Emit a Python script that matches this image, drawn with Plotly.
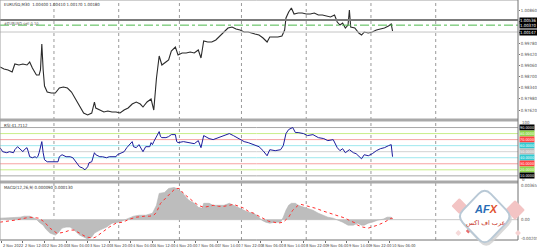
import plotly.graph_objects as go

# ---------------- data ----------------
price_bar = [0, 3, 6, 9, 11, 14, 17, 20, 22, 24, 27, 29, 30, 31, 32, 33, 35, 38, 41, 44,
             47, 50, 53, 56, 59, 62, 65, 68, 70, 71, 74, 77, 80, 83, 86, 89, 92, 95, 98, 101,
             104, 106, 109, 112, 114, 116, 118, 120, 123, 125, 127, 130, 132, 135, 138, 141, 144, 147, 149, 151,
             154, 157, 160, 163, 166, 169, 172, 175, 178, 181, 184, 186, 189, 192, 195, 198, 200, 203, 206, 209,
             211, 212, 214, 216, 218, 221, 224, 227, 230, 233, 236, 239, 242, 245, 248, 250, 252, 254, 256, 258,
             259, 260, 263, 266, 268, 270, 273, 276, 279, 282, 285, 288, 290, 291]
price_close = [0.99013, 0.98948, 0.98916, 0.98851, 0.99110, 0.99078, 0.99110, 0.99078, 0.99175, 0.98981,
               0.98754, 0.98754, 0.98916, 0.99758, 0.98916, 0.98398, 0.98203, 0.98171, 0.98171, 0.98333,
               0.98365, 0.98333, 0.98203, 0.97976, 0.97717, 0.97523, 0.97458, 0.97523, 0.97879, 0.97685,
               0.97620, 0.97555, 0.97588, 0.97555, 0.97555, 0.97523, 0.97620, 0.97685, 0.97814, 0.97879,
               0.97814, 0.97717, 0.97879, 0.97976, 0.97620, 0.98657, 0.99370, 0.99078, 0.99175, 0.99240,
               0.99532, 0.99661, 0.99402, 0.99467, 0.99467, 0.99499, 0.99467, 0.99564, 0.99305, 0.99856,
               0.99823, 0.99823, 0.99888, 1.00018, 1.00115, 1.00277, 1.00309, 1.00244, 1.00212, 1.00147,
               1.00147, 1.00115, 1.00082, 1.00050, 0.99953, 0.99823, 0.99985, 0.99985, 0.99985, 1.00018,
               1.00212, 1.00601, 1.00795, 1.00925, 1.00730, 1.00763, 1.00763, 1.00730, 1.00730, 1.00763,
               1.00698, 1.00698, 1.00666, 1.00633, 1.00698, 1.00471, 1.00374, 1.00439, 1.00277, 1.00374,
               1.00860, 1.00309, 1.00277, 1.00115, 1.00050, 1.00147, 1.00115, 1.00147, 1.00212, 1.00244,
               1.00277, 1.00342, 1.00406, 1.00180]

rsi_bar = [0, 2, 5, 7, 10, 11, 13, 15, 17, 18, 20, 21, 22, 24, 26, 27, 28, 29, 31, 32,
           33, 35, 39, 43, 44, 46, 49, 52, 54, 57, 59, 61, 63, 65, 66, 68, 70, 71, 74, 76,
           79, 81, 83, 86, 87, 90, 92, 94, 97, 98, 99, 101, 103, 105, 106, 108, 111, 112, 113, 114,
           116, 117, 118, 119, 120, 123, 125, 127, 130, 131, 132, 136, 140, 144, 147, 149, 151, 155, 158, 162,
           166, 170, 173, 177, 181, 184, 188, 192, 195, 198, 200, 204, 208, 210, 212, 214, 217, 219, 221, 225,
           228, 232, 236, 240, 243, 247, 250, 252, 254, 256, 259, 262, 264, 266, 268, 270, 273, 276, 279, 282,
           285, 288, 290, 291]
rsi_val = [56.7, 50.0, 48.3, 50.0, 48.3, 53.3, 58.3, 53.3, 50.0, 53.3, 56.7, 50.0, 41.7, 40.0, 41.7, 40.0,
           41.7, 48.3, 66.7, 48.3, 36.7, 33.3, 33.3, 33.3, 41.7, 45.0, 41.7, 41.7, 40.0, 31.7, 25.0, 23.3,
           20.0, 25.0, 31.7, 33.3, 48.3, 45.0, 41.7, 41.7, 40.0, 41.7, 41.7, 41.7, 45.0, 48.3, 50.0, 56.7,
           65.0, 66.7, 58.3, 56.7, 61.7, 53.3, 50.0, 58.3, 58.3, 65.0, 61.7, 66.7, 75.0, 81.7, 83.3, 75.0,
           73.3, 73.3, 75.0, 78.3, 78.3, 66.7, 65.0, 66.7, 65.0, 63.3, 68.3, 56.7, 76.7, 71.7, 70.0, 73.3,
           76.7, 80.0, 76.7, 71.7, 66.7, 65.0, 61.7, 58.3, 51.7, 43.3, 53.3, 51.7, 53.3, 60.0, 80.0, 86.7,
           90.0, 81.7, 81.7, 80.0, 76.7, 78.3, 73.3, 71.7, 68.3, 70.0, 56.7, 51.7, 55.0, 48.3, 53.3, 48.3,
           46.7, 41.7, 38.3, 45.0, 43.3, 46.7, 51.7, 55.0, 56.7, 60.0, 61.7, 41.7112]

macd_bar = [0, 7, 15, 18, 22, 24, 27, 29, 32, 34, 37, 41, 43, 46, 49, 52, 55, 59, 63, 65,
            68, 70, 74, 79, 83, 88, 92, 96, 99, 103, 108, 113, 116, 118, 122, 125, 129, 131, 135, 138,
            140, 144, 147, 150, 151, 155, 158, 162, 166, 170, 173, 177, 181, 184, 188, 192, 194, 197, 200, 204,
            208, 210, 212, 214, 216, 219, 221, 225, 228, 232, 236, 240, 243, 247, 251, 254, 258, 262, 265, 268,
            270, 273, 276, 280, 284, 287, 290, 291]
macd_hist = [0.00015, 0.00020, 0.00025, 0.00035, 0.00035, 0.00025, 0.00005, -0.00025, -0.00055, -0.00095,
             -0.00135, -0.00155, -0.00135, -0.00085, -0.00075, -0.00075, -0.00105, -0.00155, -0.00185, -0.00195,
             -0.00175, -0.00135, -0.00105, -0.00075, -0.00035, -0.00025, -0.00005, 0.00015, 0.00035, 0.00045,
             0.00045, 0.00065, 0.00145, 0.00265, 0.00275, 0.00315, 0.00325, 0.00315, 0.00275, 0.00225,
             0.00195, 0.00165, 0.00125, 0.00115, 0.00165, 0.00165, 0.00145, 0.00145, 0.00145, 0.00165,
             0.00145, 0.00125, 0.00095, 0.00075, 0.00065, 0.00025, -0.00005, -0.00025, -0.00035, -0.00025,
             -0.00025, 0.00025, 0.00095, 0.00145, 0.00165, 0.00165, 0.00145, 0.00125, 0.00115, 0.00095,
             0.00065, 0.00045, 0.00025, 0.00015, -0.00005, -0.00025, -0.00055, -0.00055, -0.00035, -0.00055,
             -0.00055, -0.00035, -0.00025, -0.00005, 0.00005, 0.00025, 0.00025, 0.00009]

signal_bar = [0, 11, 22, 29, 33, 37, 42, 44, 48, 52, 55, 59, 64, 69, 71, 76, 81, 86, 91, 96,
              101, 107, 111, 114, 116, 119, 123, 127, 130, 133, 136, 140, 144, 147, 151, 155, 158, 162, 166, 170,
              173, 177, 181, 184, 188, 192, 195, 199, 203, 206, 210, 214, 217, 221, 223, 226, 230, 234, 240, 245,
              251, 256, 260, 264, 265, 269, 273, 276, 280, 285, 290, 291]
macd_signal = [-0.00025, -0.00005, 0.00025, 0.00015, -0.00025, -0.00085, -0.00135, -0.00135, -0.00125, -0.00105,
               -0.00105, -0.00135, -0.00175, -0.00185, -0.00175, -0.00125, -0.00075, -0.00035, -0.00025, 0.00005,
               0.00025, 0.00035, 0.00035, 0.00045, 0.00075, 0.00165, 0.00225, 0.00275, 0.00315, 0.00315,
               0.00265, 0.00215, 0.00175, 0.00145, 0.00125, 0.00135, 0.00145, 0.00135, 0.00135, 0.00145,
               0.00155, 0.00135, 0.00115, 0.00085, 0.00065, 0.00035, 0.00015, -0.00015, -0.00025, -0.00035,
               -0.00025, 0.00025, 0.00095, 0.00145, 0.00155, 0.00145, 0.00135, 0.00115, 0.00085, 0.00065,
               0.00035, 0.00015, -0.00015, -0.00035, -0.00055, -0.00075, -0.00085, -0.00075, -0.00055, -0.00025,
               0.00015, 0.00013]

price_ticks = [1.00860, 1.00500, 1.00140, 0.99780, 0.99420, 0.99060, 0.98700, 0.98340, 0.97980, 0.97620]
time_labels = ["2 Nov 2022", "2 Nov 12:00", "2 Nov 20:00", "3 Nov 04:00", "3 Nov 12:00", "3 Nov 20:00",
               "4 Nov 04:00", "4 Nov 12:00", "4 Nov 20:00", "7 Nov 06:00", "7 Nov 14:00", "7 Nov 22:00",
               "8 Nov 06:00", "8 Nov 14:00", "8 Nov 22:00", "9 Nov 06:00", "9 Nov 14:00", "9 Nov 22:00",
               "10 Nov 06:00"]
separator_bars = [40, 88, 133, 179, 227, 275, 323]
rsi_levels = [90, 80, 70, 60, 50, 40, 30, 20, 10]
order_price = 1.00536
tp_price = 1.00370
bid_price = 1.00147
last_ohlc = [1.00400, 1.00410, 1.00170, 1.00180]
price_range = [0.97345, 1.01184]
macd_range = [-0.00205, 0.00365]
macd_labels = ["0.00365", "0.00", "-0.00205"]

# ---------------- layout helpers ----------------
W, H = 521.0, 240.0
def px(x):
    return x / W
def py(y):
    return 1 - y / H

FONT = "Liberation Sans Narrow, DejaVu Sans Condensed, Arial Narrow, sans-serif"
FS = 4.3
FT = 3.9
fig = go.Figure()

fig.add_trace(go.Scatter(x=price_bar, y=price_close, mode="lines",
                         line=dict(color="#2b2b2b", width=1.1), yaxis="y", hoverinfo="skip"))
fig.add_trace(go.Scatter(x=rsi_bar, y=rsi_val, mode="lines",
                         line=dict(color="#1c1c9c", width=1.0), yaxis="y2", hoverinfo="skip"))
fig.add_trace(go.Scatter(x=macd_bar, y=macd_hist, mode="lines", fill="tozeroy",
                         fillcolor="#bdbdbd", line=dict(color="#b5b5b5", width=0.6),
                         yaxis="y3", hoverinfo="skip"))
fig.add_trace(go.Scatter(x=signal_bar, y=macd_signal, mode="lines",
                         line=dict(color="#ff3030", width=1, dash="dot"), yaxis="y3", hoverinfo="skip"))

shapes = []
annotations = []

for b in separator_bars:
    shapes.append(dict(type="line", xref="x", yref="paper", x0=b, x1=b, y0=0, y1=1,
                       line=dict(color="#9a9a9a", width=1, dash="dot"), layer="below"))

shapes.append(dict(type="line", xref="paper", yref="y", x0=0, x1=1, y0=order_price, y1=order_price,
                   line=dict(color="#7c7c7c", width=2)))
shapes.append(dict(type="line", xref="paper", yref="y", x0=0, x1=1, y0=tp_price, y1=tp_price,
                   line=dict(color="#4cb84c", width=1, dash="dashdot")))
shapes.append(dict(type="line", xref="paper", yref="y", x0=0, x1=1, y0=bid_price, y1=bid_price,
                   line=dict(color="#c4c4c4", width=1)))
for val in [order_price, tp_price, bid_price]:
    annotations.append(dict(xref="paper", yref="y", x=1, y=val, xanchor="left", yanchor="middle",
                            text="%.5f" % val, showarrow=False, bgcolor="#000000",
                            font=dict(size=FS, color="#ffffff", family=FONT), borderpad=0, xshift=1))

level_line = {90: "#a8a8a8", 80: "#c8ee8a", 70: "#f7a3a3", 60: "#9ee8ee", 50: "#d2d2d2",
              40: "#9ee8ee", 30: "#f7a3a3", 20: "#c8ee8a", 10: "#a8a8a8"}
level_box = {90: "#000000", 80: "#8fd64a", 70: "#ff4040", 60: "#30c8d0", 50: "#bcbcbc",
             40: "#30c8d0", 30: "#ff4040", 20: "#8fd64a", 10: "#000000"}
for lv in rsi_levels:
    shapes.append(dict(type="line", xref="paper", yref="y2", x0=0, x1=1, y0=lv, y1=lv,
                       line=dict(color=level_line[lv], width=1), layer="below"))
    annotations.append(dict(xref="paper", yref="y2", x=1, y=lv, xanchor="left", yanchor="middle",
                            text="%.4f" % lv, showarrow=False, bgcolor=level_box[lv],
                            font=dict(size=3.8, color="#ffffff", family=FONT), borderpad=0, xshift=1))
annotations.append(dict(xref="paper", yref="paper", x=1, y=py(122.5), xanchor="left", yanchor="middle",
                        text="100", showarrow=False, font=dict(size=FS, color="#555", family=FONT), xshift=2))
annotations.append(dict(xref="paper", yref="paper", x=1, y=py(179.5), xanchor="left", yanchor="middle",
                        text="0", showarrow=False, font=dict(size=FS, color="#555", family=FONT), xshift=2))

for val, txt in zip([macd_range[1] - 0.00025, 0.0, macd_range[0] + 0.00012], macd_labels):
    annotations.append(dict(xref="paper", yref="y3", x=1, y=val, xanchor="left", yanchor="middle",
                            text=txt, showarrow=False, font=dict(size=FS, color="#555", family=FONT), xshift=1))
shapes.append(dict(type="line", xref="paper", yref="y3", x0=0, x1=1, y0=0, y1=0,
                   line=dict(color="#c8c8c8", width=1), layer="below"))

for y0, y1 in [(118.5, 121.5), (180.5, 183.5)]:
    shapes.append(dict(type="rect", xref="paper", yref="paper", x0=0, x1=1, y0=py(y1), y1=py(y0),
                       fillcolor="#a9a9a9", line=dict(width=0)))
shapes.append(dict(type="line", xref="paper", yref="paper", x0=0, x1=1, y0=1, y1=1,
                   line=dict(color="#a0a0a0", width=1)))
shapes.append(dict(type="line", xref="paper", yref="paper", x0=1, x1=1, y0=0, y1=1,
                   line=dict(color="#707070", width=1)))
shapes.append(dict(type="line", xref="paper", yref="paper", x0=0, x1=1, y0=0, y1=0,
                   line=dict(color="#707070", width=1)))
shapes.append(dict(type="line", xref="paper", yref="paper", x0=0, x1=0, y0=0, y1=1,
                   line=dict(color="#a0a0a0", width=1)))

annotations.append(dict(xref="paper", yref="paper", x=px(2), y=py(4), xanchor="left", yanchor="middle",
                        text="EURUSD,M30  " + " ".join("%.5f" % v for v in last_ohlc), showarrow=False,
                        font=dict(size=FS, color="#333", family=FONT)))
annotations.append(dict(xref="paper", yref="paper", x=px(2), y=py(24), xanchor="left", yanchor="middle",
                        text="#EURUSD sell 0.10", showarrow=False,
                        font=dict(size=4, color="#666", family=FONT)))
annotations.append(dict(xref="paper", yref="paper", x=px(2), y=py(125.5), xanchor="left", yanchor="middle",
                        text="RSI %.4f" % rsi_val[-1], showarrow=False,
                        font=dict(size=FS, color="#333", family=FONT)))
annotations.append(dict(xref="paper", yref="paper", x=px(2), y=py(187), xanchor="left", yanchor="middle",
                        text="MACD(12,26,9) %.6f %.6f" % (macd_hist[-1], macd_signal[-1]), showarrow=False,
                        font=dict(size=FS, color="#333", family=FONT)))

label_bars = [1 + 16 * i for i in range(len(time_labels))]
for b, t in zip(label_bars, time_labels):
    annotations.append(dict(xref="x", yref="paper", x=b, y=0, xanchor="left", yanchor="top",
                            text=t, showarrow=False, yshift=-1, xshift=0,
                            font=dict(size=FT, color="#444", family=FONT)))

def diamond(cx, cy, a, b, t=0.22):
    pts = [(cx, cy - b), (cx + a, cy), (cx, cy + b), (cx - a, cy)]
    path = ""
    n = len(pts)
    for i in range(n):
        p = pts[i]; prv = pts[i - 1]; nxt = pts[(i + 1) % n]
        s = (p[0] + (prv[0] - p[0]) * t, p[1] + (prv[1] - p[1]) * t)
        e = (p[0] + (nxt[0] - p[0]) * t, p[1] + (nxt[1] - p[1]) * t)
        path += ("M" if i == 0 else "L") + " %f %f " % (px(s[0]), py(s[1]))
        path += "Q %f %f %f %f " % (px(p[0]), py(p[1]), px(e[0]), py(e[1]))
    return path + "Z"

for cx, cy, a, col in [(462, 206, 8, "#f3c4c4"), (518, 210, 10, "#f3c4c4"), (471, 231, 2.5, "#e86d6d"),
                       (521, 233, 3, "#f6d2d2"), (461, 233, 3, "#f6dada")]:
    shapes.append(dict(type="path", xref="paper", yref="paper", path=diamond(cx, cy, a, a, 0.1),
                       fillcolor=col, line=dict(width=0)))
shapes.append(dict(type="path", xref="paper", yref="paper", path=diamond(489, 219, 29, 30),
                   fillcolor="#cfcfcf", line=dict(width=0), opacity=0.8))
shapes.append(dict(type="path", xref="paper", yref="paper", path=diamond(487.5, 216.5, 28, 29),
                   fillcolor="#ffffff", line=dict(color="#b9c9d6", width=2)))
annotations.append(dict(xref="paper", yref="paper", x=px(489), y=py(209), xanchor="center", yanchor="middle",
                        text="<b><i><span style='color:#2a6db5'>AF</span><span style='color:#e0502e'>X</span></i></b>",
                        showarrow=False, font=dict(size=11, family="Liberation Sans, Arial, sans-serif")))
annotations.append(dict(xref="paper", yref="paper", x=px(489), y=py(222.5), xanchor="center", yanchor="middle",
                        text="عرب اف اكس", showarrow=False,
                        font=dict(size=6.5, color="#c8372d", family="DejaVu Sans")))

fig.update_layout(
    width=537, height=250,
    margin=dict(l=0, r=16, t=0, b=10),
    paper_bgcolor="#ffffff", plot_bgcolor="#ffffff",
    showlegend=False,
    xaxis=dict(range=[0, 384], showgrid=False, zeroline=False, anchor="y3",
               tickvals=label_bars, ticktext=[""] * len(label_bars), ticks="outside", ticklen=2,
               tickcolor="#707070", showticklabels=False, fixedrange=True),
    yaxis=dict(domain=[py(118.5), 1], range=price_range, side="right", anchor="x",
               tickvals=price_ticks, ticktext=["%.5f" % v for v in price_ticks],
               tickfont=dict(size=FS, color="#555", family=FONT), ticks="outside", ticklen=1,
               tickcolor="#707070", showgrid=False, zeroline=False),
    yaxis2=dict(domain=[py(181), py(121.5)], range=[1.5, 100], side="right", anchor="x",
                showticklabels=False, showgrid=False, zeroline=False),
    yaxis3=dict(domain=[0, py(183.5)], range=macd_range, side="right", anchor="x",
                showticklabels=False, showgrid=False, zeroline=False),
    shapes=shapes,
    annotations=annotations,
)

fig.write_html("out.html")
